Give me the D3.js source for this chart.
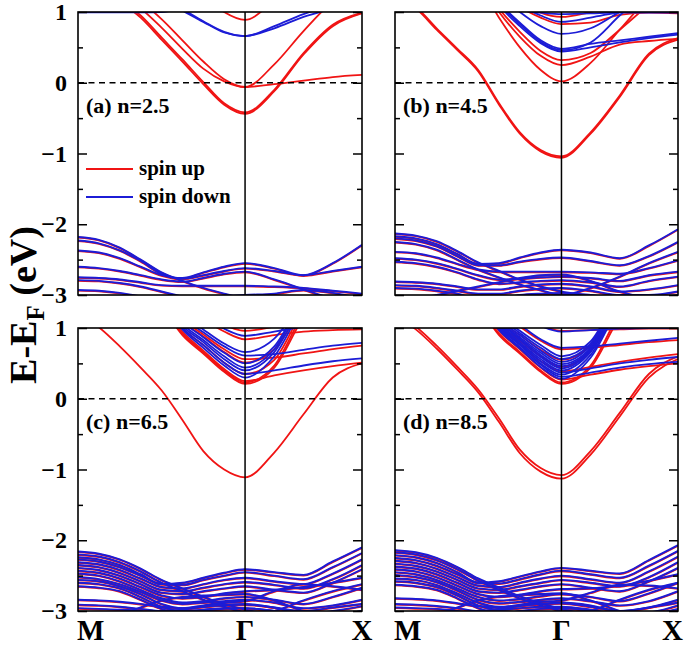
<!DOCTYPE html>
<html><head><meta charset="utf-8">
<script src="https://cdn.jsdelivr.net/npm/d3@7"></script>
<style>body{margin:0;background:#fff}</style>
</head><body>
<svg id="chart" width="685" height="645"></svg>
<script>
// k-path sample points: M = 0, Γ = 1, X = 1.7
const kGrid = [0,0.125,0.25,0.375,0.5,0.625,0.75,0.875,1,1.175,1.35,1.525,1.7];
const kPoints = [0, 1, 1.7];
const kLabels = ["M","Γ","X"];
const yTicks = [1,0,-1,-2,-3];
const yMinor = [0.5,-0.5,-1.5,-2.5];
const panelLabels = ["(a) n=2.5","(b) n=4.5","(c) n=6.5","(d) n=8.5"];
const legendLabels = ["spin up","spin down"];

// ---- panel (a) ----
const aUp = [
 [1.5,1.35,1.15,0.92,0.61,0.30,-0.02,-0.31,-0.44,-0.12,0.40,0.80,0.98],
 [1.5,1.37,1.18,0.95,0.64,0.33,0.01,-0.29,-0.42,-0.10,0.42,0.82,0.99],
 [1.6,1.45,1.25,1.05,0.78,0.48,0.20,0.02,-0.06,-0.02,0.03,0.08,0.11],
 [1.7,1.55,1.35,1.15,0.90,0.60,0.30,0.05,-0.06,0.26,0.73,1.15,1.4],
 [2,2,2,2,1.8,1.5,1.25,1.0,0.89,1.15,1.4,1.6,1.7]
];
const aDown = [
 [1.6,1.5,1.4,1.3,1.18,1.02,0.86,0.71,0.66,0.77,0.93,1.05,1.15],
 [1.6,1.5,1.4,1.3,1.2,1.04,0.87,0.72,0.66,0.80,0.97,1.1,1.2],
 [0.995,0.995,0.995,0.995,1.0,1.05,1.1,1.15,1.2,1.2,1.2,1.2,1.2]
];
const aVal = [
 [-2.18,-2.22,-2.33,-2.5,-2.68,-2.8,-2.9,-2.98,-3.05,-3.1,-3.1,-3.1,-3.1],
 [-2.23,-2.27,-2.37,-2.52,-2.7,-2.76,-2.68,-2.6,-2.55,-2.62,-2.72,-2.55,-2.29],
 [-2.37,-2.4,-2.48,-2.6,-2.72,-2.77,-2.72,-2.66,-2.62,-2.66,-2.72,-2.66,-2.6],
 [-2.6,-2.62,-2.66,-2.72,-2.78,-2.81,-2.76,-2.7,-2.67,-2.78,-2.92,-3.05,-3.1],
 [-2.75,-2.76,-2.78,-2.82,-2.86,-2.87,-2.87,-2.87,-2.87,-2.88,-2.9,-2.94,-2.98],
 [-2.79,-2.8,-2.83,-2.88,-2.95,-3.02,-3.05,-3.02,-3.0,-2.98,-2.93,-2.97,-3.05],
 [-2.93,-2.94,-2.97,-3.02,-3.08,-3.1,-3.1,-3.1,-3.1,-3.1,-3.1,-3.1,-3.1]
];

// ---- panel (b) ----
const bUp = [
 [1.2,1.05,0.75,0.46,0.16,-0.31,-0.72,-0.97,-1.06,-0.72,-0.2,0.39,0.61],
 [1.22,1.07,0.77,0.48,0.18,-0.29,-0.7,-0.95,-1.04,-0.7,-0.18,0.41,0.63],
 [1.9,1.8,1.7,1.6,1.4,0.92,0.5,0.18,0.02,0.28,0.75,1.2,1.5],
 [1.9,1.8,1.7,1.6,1.45,1.0,0.65,0.38,0.25,0.37,0.54,0.59,0.62],
 [1.9,1.8,1.7,1.6,1.5,1.05,0.72,0.45,0.32,0.42,0.75,1.1,1.4],
 [2,1.9,1.8,1.75,1.7,1.35,1.08,0.92,0.83,0.85,0.96,0.99,0.98],
 [2,1.9,1.8,1.75,1.7,1.4,1.15,0.99,0.93,1.0,1.1,1.2,1.3]
];
const bDown = [
 [1.9,1.8,1.7,1.6,1.55,1.1,0.8,0.56,0.44,0.5,0.57,0.63,0.68],
 [1.9,1.8,1.7,1.6,1.55,1.12,0.83,0.58,0.46,0.57,0.95,1.3,1.5],
 [1.9,1.8,1.7,1.6,1.58,1.14,0.85,0.6,0.48,0.55,0.6,0.65,0.7],
 [2,1.9,1.8,1.7,1.65,1.25,1.0,0.8,0.69,0.77,1.0,1.2,1.3],
 [2,1.9,1.8,1.75,1.7,1.35,1.1,0.95,0.86,0.92,1.0,1.05,1.1],
 [1.3,1.25,1.2,1.15,1.1,1.05,1.02,0.99,0.97,0.98,0.99,0.99,0.99]
];
const bVal = [
 [-2.13,-2.16,-2.24,-2.38,-2.54,-2.66,-2.78,-2.88,-2.95,-3.02,-3.1,-3.1,-3.1],
 [-2.17,-2.2,-2.28,-2.42,-2.56,-2.55,-2.47,-2.4,-2.36,-2.4,-2.48,-2.3,-2.07],
 [-2.2,-2.23,-2.31,-2.45,-2.58,-2.58,-2.53,-2.49,-2.47,-2.52,-2.58,-2.45,-2.25],
 [-2.25,-2.28,-2.36,-2.5,-2.64,-2.75,-2.85,-2.93,-3.0,-2.9,-2.74,-2.55,-2.39],
 [-2.39,-2.41,-2.47,-2.56,-2.64,-2.67,-2.67,-2.67,-2.67,-2.68,-2.7,-2.62,-2.51],
 [-2.48,-2.5,-2.55,-2.63,-2.72,-2.78,-2.77,-2.75,-2.74,-2.76,-2.8,-2.72,-2.67],
 [-2.53,-2.55,-2.6,-2.68,-2.78,-2.84,-2.82,-2.8,-2.79,-2.82,-2.88,-2.8,-2.74],
 [-2.81,-2.82,-2.84,-2.88,-2.92,-2.92,-2.88,-2.85,-2.84,-2.88,-2.95,-2.92,-2.86],
 [-2.86,-2.87,-2.9,-2.94,-2.98,-2.98,-2.94,-2.91,-2.9,-2.94,-3.0,-3.0,-2.95],
 [-2.9,-2.91,-2.94,-2.98,-3.05,-3.05,-3.0,-2.98,-2.97,-3.0,-3.05,-3.05,-3.0],
 [-3.1,-3.05,-3.0,-2.94,-2.88,-2.82,-2.76,-2.72,-2.71,-2.8,-2.95,-3.05,-3.1]
];

// ---- panel (c) ----
const cUp = [
 [1.2,1.01,0.74,0.44,0.12,-0.3,-0.74,-1.0,-1.11,-0.76,-0.22,0.3,0.5],
 [1.9,1.8,1.7,1.6,1.3,0.9,0.64,0.38,0.21,0.44,1.15,1.6,1.9],
 [1.9,1.8,1.7,1.6,1.32,0.92,0.66,0.4,0.23,0.47,1.2,1.6,1.9],
 [1.9,1.8,1.7,1.6,1.35,0.95,0.68,0.42,0.25,0.33,0.40,0.46,0.51],
 [1.9,1.8,1.7,1.6,1.4,1.0,0.76,0.51,0.35,0.55,1.25,1.6,1.9],
 [2,1.9,1.8,1.7,1.5,1.1,0.88,0.66,0.51,0.7,1.3,1.7,1.9],
 [2,1.9,1.8,1.7,1.52,1.13,0.91,0.7,0.56,0.58,0.64,0.7,0.75],
 [2,1.9,1.8,1.75,1.7,1.35,1.13,0.95,0.84,0.9,0.95,0.97,0.98],
 [2,1.9,1.8,1.75,1.75,1.5,1.25,1.05,0.96,1.02,1.1,1.2,1.3]
];
const cDown = [
 [1.9,1.8,1.7,1.6,1.38,0.98,0.72,0.47,0.30,0.6,1.3,1.7,1.9],
 [1.9,1.8,1.7,1.6,1.4,1.0,0.76,0.51,0.35,0.40,0.47,0.53,0.57],
 [1.9,1.8,1.7,1.6,1.43,1.03,0.8,0.56,0.40,0.66,1.35,1.7,1.9],
 [1.9,1.8,1.7,1.6,1.45,1.06,0.83,0.6,0.44,0.7,1.4,1.7,1.9],
 [2,1.9,1.8,1.7,1.5,1.1,0.87,0.65,0.50,0.74,1.4,1.7,1.9],
 [2,1.9,1.8,1.7,1.55,1.16,0.94,0.74,0.61,0.63,0.69,0.75,0.79],
 [2,1.9,1.8,1.7,1.6,1.2,0.98,0.78,0.66,0.85,1.4,1.7,1.9],
 [2,1.9,1.8,1.75,1.7,1.4,1.17,0.99,0.89,0.95,1.02,1.1,1.2]
];
const cVal = [
 [-2.16,-2.19,-2.27,-2.4,-2.56,-2.68,-2.8,-2.9,-2.98,-3.05,-3.1,-3.1,-3.1],
 [-2.2,-2.23,-2.31,-2.44,-2.6,-2.72,-2.84,-2.94,-3.02,-3.1,-3.1,-3.1,-3.1],
 [-2.24,-2.27,-2.35,-2.48,-2.62,-2.6,-2.53,-2.46,-2.41,-2.45,-2.49,-2.3,-2.1],
 [-2.27,-2.3,-2.38,-2.5,-2.62,-2.63,-2.56,-2.5,-2.45,-2.5,-2.55,-2.38,-2.18],
 [-2.31,-2.34,-2.42,-2.54,-2.66,-2.68,-2.62,-2.56,-2.53,-2.58,-2.62,-2.47,-2.27],
 [-2.35,-2.38,-2.46,-2.58,-2.7,-2.72,-2.67,-2.62,-2.59,-2.63,-2.68,-2.55,-2.35],
 [-2.39,-2.42,-2.5,-2.62,-2.74,-2.76,-2.72,-2.68,-2.65,-2.7,-2.74,-2.6,-2.41],
 [-2.43,-2.46,-2.54,-2.66,-2.78,-2.82,-2.8,-2.75,-2.72,-2.7,-2.66,-2.6,-2.53],
 [-2.47,-2.5,-2.58,-2.7,-2.82,-2.88,-2.86,-2.82,-2.8,-2.84,-2.9,-2.8,-2.67],
 [-2.52,-2.55,-2.62,-2.73,-2.85,-2.9,-2.88,-2.86,-2.84,-2.88,-2.96,-2.92,-2.84],
 [-2.56,-2.58,-2.65,-2.76,-2.9,-2.96,-2.94,-2.92,-2.91,-2.95,-3.05,-3.0,-2.93],
 [-2.6,-2.62,-2.68,-2.8,-2.94,-3.0,-2.98,-2.96,-2.96,-3.0,-3.05,-3.05,-3.0],
 [-2.65,-2.67,-2.72,-2.84,-2.97,-3.05,-3.08,-3.08,-3.08,-3.08,-3.08,-3.08,-3.05],
 [-2.84,-2.85,-2.87,-2.9,-2.94,-2.96,-2.92,-2.88,-2.86,-2.72,-2.62,-2.65,-2.7],
 [-2.91,-2.92,-2.94,-2.97,-3.0,-2.98,-2.94,-2.91,-2.9,-2.95,-3.0,-2.95,-2.9],
 [-2.96,-2.97,-2.98,-3.0,-3.05,-3.05,-3.0,-2.97,-2.96,-3.0,-3.05,-3.05,-3.0],
 [-3.1,-3.1,-3.05,-2.95,-2.85,-2.8,-2.78,-2.77,-2.76,-2.85,-3.0,-3.1,-3.1],
 [-3.1,-3.1,-3.1,-3.1,-3.05,-3.0,-3.02,-3.05,-3.1,-3.0,-2.85,-2.72,-2.62]
];

// ---- panel (d) ----
const dUp = [
 [1.22,1.02,0.75,0.45,0.13,-0.28,-0.72,-0.98,-1.08,-0.74,-0.2,0.35,0.6],
 [1.18,0.98,0.71,0.41,0.09,-0.33,-0.77,-1.03,-1.13,-0.79,-0.25,0.3,0.56],
 [1.9,1.8,1.7,1.6,1.3,0.9,0.64,0.38,0.21,0.44,1.15,1.6,1.9],
 [1.9,1.8,1.7,1.6,1.32,0.92,0.66,0.4,0.23,0.47,1.2,1.6,1.9],
 [1.9,1.8,1.7,1.6,1.36,0.96,0.7,0.44,0.27,0.34,0.41,0.46,0.50],
 [1.9,1.8,1.7,1.6,1.42,1.02,0.77,0.53,0.39,0.45,0.52,0.58,0.63],
 [1.9,1.8,1.7,1.6,1.45,1.05,0.82,0.6,0.45,0.68,1.3,1.7,1.9],
 [2,1.9,1.8,1.7,1.52,1.12,0.9,0.69,0.55,0.75,1.35,1.7,1.9],
 [2,1.9,1.8,1.75,1.62,1.25,1.02,0.82,0.70,0.72,0.76,0.80,0.83],
 [2,1.9,1.8,1.75,1.7,1.42,1.2,1.04,0.96,0.97,0.98,0.99,0.99]
];
const dDown = [
 [1.9,1.8,1.7,1.6,1.37,0.97,0.71,0.45,0.28,0.58,1.3,1.7,1.9],
 [1.9,1.8,1.7,1.6,1.39,0.99,0.73,0.48,0.31,0.37,0.44,0.49,0.52],
 [1.9,1.8,1.7,1.6,1.41,1.01,0.76,0.5,0.34,0.62,1.32,1.7,1.9],
 [1.9,1.8,1.7,1.6,1.43,1.03,0.78,0.53,0.37,0.43,0.5,0.55,0.59],
 [1.9,1.8,1.7,1.6,1.45,1.05,0.8,0.56,0.40,0.66,1.34,1.7,1.9],
 [1.9,1.8,1.7,1.6,1.47,1.07,0.83,0.59,0.43,0.68,1.36,1.7,1.9],
 [1.9,1.8,1.7,1.6,1.49,1.09,0.85,0.62,0.46,0.7,1.38,1.7,1.9],
 [2,1.9,1.8,1.7,1.51,1.11,0.87,0.65,0.49,0.72,1.4,1.7,1.9],
 [2,1.9,1.8,1.7,1.53,1.13,0.9,0.68,0.52,0.75,1.42,1.7,1.9],
 [2,1.9,1.8,1.7,1.56,1.16,0.93,0.72,0.56,0.78,1.44,1.7,1.9],
 [2,1.9,1.8,1.7,1.59,1.19,0.96,0.76,0.60,0.81,1.46,1.7,1.9],
 [2,1.9,1.8,1.75,1.65,1.28,1.05,0.84,0.72,0.74,0.78,0.82,0.86],
 [2,1.9,1.8,1.75,1.7,1.42,1.2,1.03,0.95,0.97,0.99,1.0,1.0]
];
const dVal = [
 [-2.14,-2.17,-2.25,-2.38,-2.54,-2.67,-2.79,-2.89,-2.97,-3.05,-3.1,-3.1,-3.1],
 [-2.17,-2.2,-2.28,-2.41,-2.57,-2.7,-2.82,-2.92,-3.0,-3.08,-3.1,-3.1,-3.1],
 [-2.21,-2.24,-2.32,-2.45,-2.6,-2.58,-2.51,-2.44,-2.39,-2.43,-2.47,-2.28,-2.07],
 [-2.25,-2.28,-2.36,-2.48,-2.6,-2.61,-2.55,-2.48,-2.43,-2.48,-2.53,-2.36,-2.15],
 [-2.29,-2.32,-2.4,-2.52,-2.64,-2.66,-2.6,-2.54,-2.5,-2.55,-2.6,-2.44,-2.23],
 [-2.33,-2.36,-2.44,-2.56,-2.68,-2.7,-2.65,-2.6,-2.56,-2.6,-2.65,-2.52,-2.31],
 [-2.37,-2.4,-2.48,-2.6,-2.72,-2.74,-2.7,-2.65,-2.62,-2.67,-2.72,-2.58,-2.39],
 [-2.41,-2.44,-2.52,-2.64,-2.76,-2.8,-2.77,-2.72,-2.69,-2.68,-2.64,-2.57,-2.48],
 [-2.45,-2.48,-2.56,-2.68,-2.8,-2.85,-2.83,-2.79,-2.76,-2.8,-2.86,-2.75,-2.6],
 [-2.49,-2.52,-2.59,-2.71,-2.84,-2.89,-2.87,-2.84,-2.82,-2.86,-2.92,-2.86,-2.72],
 [-2.54,-2.56,-2.63,-2.75,-2.88,-2.94,-2.92,-2.9,-2.88,-2.92,-3.0,-2.95,-2.84],
 [-2.58,-2.6,-2.66,-2.78,-2.92,-2.98,-2.96,-2.94,-2.94,-2.98,-3.04,-3.02,-2.92],
 [-2.63,-2.65,-2.7,-2.82,-2.96,-3.03,-3.06,-3.06,-3.06,-3.06,-3.06,-3.06,-3.0],
 [-2.82,-2.83,-2.85,-2.89,-2.93,-2.95,-2.91,-2.87,-2.85,-2.74,-2.63,-2.64,-2.68],
 [-2.9,-2.91,-2.93,-2.96,-3.0,-2.97,-2.93,-2.9,-2.89,-2.94,-3.0,-2.95,-2.88],
 [-2.95,-2.96,-2.97,-3.0,-3.04,-3.04,-3.0,-2.97,-2.96,-3.0,-3.05,-3.04,-2.97],
 [-3.1,-3.1,-3.05,-2.95,-2.85,-2.79,-2.77,-2.76,-2.75,-2.85,-3.0,-3.1,-3.1],
 [-3.1,-3.1,-3.1,-3.1,-3.05,-3.0,-3.02,-3.05,-3.1,-3.0,-2.84,-2.7,-2.6]
];

// ---------------- drawing ----------------
const RED = "#f01414", BLUE = "#1c1cd6";
const FONT = "'Liberation Serif','Times New Roman',serif";
const svg = d3.select("#chart");

const panels = [
 {x:78,  y:12,  w:284, h:283, up:aUp, down:aDown, val:aVal, labels:true,  bottom:false},
 {x:395, y:12,  w:283, h:283, up:bUp, down:bDown, val:bVal, labels:false, bottom:false},
 {x:78,  y:328, w:284, h:283, up:cUp, down:cDown, val:cVal, labels:true,  bottom:true},
 {x:395, y:328, w:283, h:283, up:dUp, down:dDown, val:dVal, labels:false, bottom:true}
];

panels.forEach((p, i) => {
  const g = svg.append("g").attr("transform", `translate(${p.x},${p.y})`);
  const xs = d3.scaleLinear().domain([0, 1.7]).range([0, p.w]);
  const ys = d3.scaleLinear().domain([-3, 1]).range([p.h, 0]);
  g.append("clipPath").attr("id", "clip" + i)
    .append("rect").attr("width", p.w).attr("height", p.h);
  const line = d3.line().x((d, j) => xs(kGrid[j])).y(d => ys(d)).curve(d3.curveMonotoneX);
  const bands = g.append("g").attr("clip-path", `url(#clip${i})`);
  const draw = (data, color, dy, sw) => bands.append("g").attr("transform", `translate(0,${dy})`)
    .selectAll("path").data(data).join("path")
    .attr("d", line).attr("fill", "none").attr("stroke", color)
    .attr("stroke-width", sw).attr("stroke-linejoin", "round");
  draw(p.val, RED, 0.55, 1.9);
  draw(p.val, BLUE, 0, 1.9);
  draw(p.up, RED, 0, 1.8);
  draw(p.down, BLUE, 0, 1.8);

  // Fermi level
  g.append("line").attr("x1", 0).attr("x2", p.w).attr("y1", ys(0)).attr("y2", ys(0))
    .attr("stroke", "#000").attr("stroke-width", 1.5).attr("stroke-dasharray", "6,4.5");
  // Gamma line
  g.append("line").attr("x1", xs(1)).attr("x2", xs(1)).attr("y1", 0).attr("y2", p.h)
    .attr("stroke", "#000").attr("stroke-width", 1.5);

  // axes (inward ticks)
  const left = d3.axisLeft(ys).tickValues(yTicks).tickSize(-9).tickPadding(11)
    .tickFormat(p.labels ? d3.format("d") : "");
  const leftMinor = d3.axisLeft(ys).tickValues(yMinor).tickSize(-5).tickFormat("");
  const right = d3.axisRight(ys).tickValues(yTicks).tickSize(-9).tickFormat("");
  const rightMinor = d3.axisRight(ys).tickValues(yMinor).tickSize(-5).tickFormat("");
  [[left,0],[leftMinor,0],[right,p.w],[rightMinor,p.w]].forEach(([ax, tx]) => {
    const a = g.append("g").attr("transform", `translate(${tx},0)`).call(ax);
    a.select(".domain").remove();
    a.selectAll("line").attr("stroke", "#000").attr("stroke-width", 1.5);
    a.selectAll("text").attr("font-family", FONT).attr("font-weight", "bold")
      .attr("font-size", 24).attr("fill", "#000");
  });
  // frame
  g.append("rect").attr("width", p.w).attr("height", p.h).attr("fill", "none")
    .attr("stroke", "#000").attr("stroke-width", 1.6);

  // panel label
  g.append("text").attr("x", 8).attr("y", 101).text(panelLabels[i])
    .attr("font-family", FONT).attr("font-weight", "bold").attr("font-size", 22);

  // k labels
  if (p.bottom) {
    kPoints.forEach((k, j) => {
      let xx = xs(k), anchor = "middle";
      if (j === 0) { xx = xs(k) - 1; anchor = "start"; }
      if (j === 2 && p.x + xs(k) + 12 > 685) { xx = 683 - p.x; anchor = "end"; }
      g.append("text").attr("x", xx).attr("y", p.h + 29).attr("text-anchor", anchor)
        .text(kLabels[j]).attr("font-family", FONT).attr("font-weight", "bold").attr("font-size", 29);
    });
  }

  // legend in panel (a)
  if (i === 0) {
    [RED, BLUE].forEach((c, j) => {
      const yy = ys(-1.22) + j * 28;
      g.append("line").attr("x1", 8).attr("x2", 55).attr("y1", yy).attr("y2", yy)
        .attr("stroke", c).attr("stroke-width", 2);
      g.append("text").attr("x", 61).attr("y", yy + 6).text(legendLabels[j])
        .attr("font-family", FONT).attr("font-weight", "bold").attr("font-size", 21);
    });
  }
});

// y-axis title
const yt = svg.append("text").attr("transform", "translate(36,305) rotate(-90)")
  .attr("text-anchor", "middle").attr("font-family", FONT).attr("font-weight", "bold")
  .attr("font-size", 38);
yt.append("tspan").text("E-E");
yt.append("tspan").text("F").attr("font-size", 25).attr("dy", 8);
yt.append("tspan").text(" (eV)").attr("dy", -8);
</script>
</body></html>
